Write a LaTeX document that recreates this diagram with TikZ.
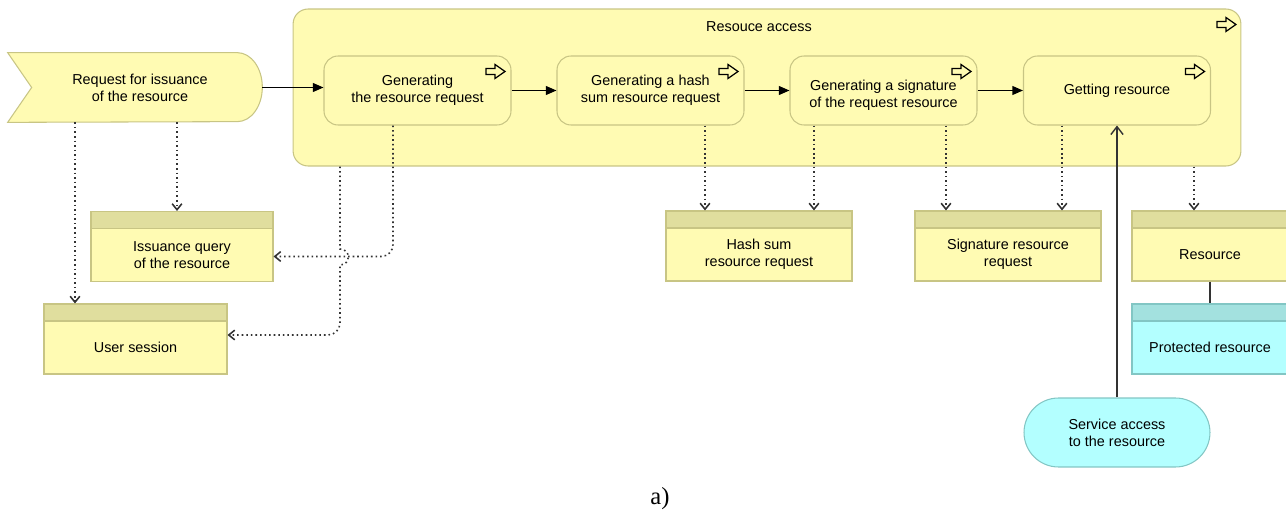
\documentclass[tikz,border=0pt]{standalone}
\usepackage{fontspec}
\setmainfont{Liberation Sans}
\newfontfamily\capfont{Liberation Serif}
\usepackage{tikz}
\usetikzlibrary{positioning,calc,arrows.meta}

\definecolor{objfill}{HTML}{FFFBB3}
\definecolor{objline}{HTML}{C8C584}
\definecolor{objhead}{HTML}{E0DE9E}
\definecolor{resfill}{HTML}{B3FFFF}
\definecolor{resline}{HTML}{82C6C4}
\definecolor{reshead}{HTML}{A3E1DF}
\definecolor{linkcol}{HTML}{333333}

\tikzset{
  frame/.style={draw=objline, fill=objfill, line width=0.6pt, rounded corners=0.3cm,
    minimum width=18.96cm, minimum height=3.14cm, inner sep=0pt},
  func/.style={draw=objline, fill=objfill, line width=0.6pt, rounded corners=0.28cm,
    minimum width=3.74cm, minimum height=1.38cm, align=center, inner sep=0pt},
  evbox/.style={minimum width=5.08cm, minimum height=1.38cm, inner sep=0pt},
  event/.style={draw=objline, fill=objfill, line width=0.6pt},
  data/.style={draw=#1line, fill=#1fill, line width=0.6pt,
    minimum width=3.68cm, minimum height=1.4cm, inner sep=0pt,
    path picture={
      \fill[#1head] (path picture bounding box.north west) rectangle ([yshift=-0.34cm]path picture bounding box.north east);
      \draw[#1line, line width=0.6pt] ([yshift=-0.34cm]path picture bounding box.north west) -- ([yshift=-0.34cm]path picture bounding box.north east);}},
  data/.default=obj,
  txt/.style={align=center, inner sep=0pt},
  svc/.style={draw=resline, fill=resfill, line width=0.6pt, rounded corners=0.69cm,
    minimum width=3.72cm, minimum height=1.38cm, align=center},
  flowicon/.pic={
    \draw[black, line width=0.7pt, line join=miter]
      (-9.5,-3) -- (-0.5,-3) -- (-0.5,-7) -- (9.5,0) -- (-0.5,7) -- (-0.5,3) -- (-9.5,3) -- cycle;},
  flow/.style={draw=black, line width=0.8pt, -{Triangle[length=6pt,width=5pt]}},
  link/.style={draw=linkcol, line width=0.8pt},
  access/.style={link, -{Straight Barb[length=4.5pt,width=7pt]}},
  dataflow/.style={draw=linkcol, line width=0.9pt, dash pattern=on 0.9pt off 1.7pt,
    -{Straight Barb[length=3.4pt,width=5.5pt]}}
}

\begin{document}
\begin{tikzpicture}[x=0.02cm, y=-0.02cm, font=\fontsize{8.2}{9.7}\selectfont]
    \useasboundingbox (0,0) rectangle (1286,513);

    % Process frame
    \node[frame] (cont) at (767,87.5) {};
    \node[txt] (cont-t) at ([xshift=-0.16cm,yshift=-0.37cm]cont.north) {Resouce access};
    \pic at ([xshift=-0.3cm,yshift=-0.32cm]cont.north east) {flowicon};

    % Start event
    \node[evbox] (ev) at (135,87.5) {};
    \filldraw[event] (ev.north west) -- ([xshift=-0.5cm]ev.north east)
        arc[start angle=90, end angle=-90, x radius=0.5cm, y radius=0.69cm]
        -- (ev.south west) -- ([xshift=0.48cm]ev.west) -- cycle;
    \node[txt] (ev-t) at ([xshift=0.1cm]ev.center) {Request for issuance\\of the resource};

    % Functions
    \node[func] (f1) at (417.5,90.5) {Generating\\the resource request};
    \node[func] (f2) at (650.5,90.5) {Generating a hash\\sum resource request};
    \node[func] (f3) at (883.5,90.5) {};
    \node[txt] (f3-t) at ([yshift=-0.1cm]f3.center) {Generating a signature\\of the request resource};
    \node[func] (f4) at (1117,90.5) {Getting resource};
    \pic at ([xshift=-0.32cm,yshift=-0.32cm]f1.north east) {flowicon};
    \pic at ([xshift=-0.32cm,yshift=-0.32cm]f2.north east) {flowicon};
    \pic at ([xshift=-0.32cm,yshift=-0.32cm]f3.north east) {flowicon};
    \pic at ([xshift=-0.32cm,yshift=-0.32cm]f4.north east) {flowicon};

    % Control flow
    \draw[flow] (ev.east) -- (ev.east -| f1.west);
    \draw[flow] (f1.east) -- (f2.west);
    \draw[flow] (f2.east) -- (f3.west);
    \draw[flow] (f3.east) -- (f4.west);

    % Data objects
    \node[data, minimum width=3.64cm] (iq) at (182,246.5) {};
    \node[txt] (iq-t) at ([yshift=-0.17cm]iq.center) {Issuance query\\of the resource};
    \node[data, minimum width=3.66cm] (usr) at (135.5,339) {};
    \node[txt] (usr-t) at ([yshift=-0.17cm]usr.center) {User session};
    \node[data, minimum width=3.72cm] (hash) at (759,246) {};
    \node[txt] (hash-t) at ([yshift=-0.17cm]hash.center) {Hash sum\\resource request};
    \node[data, minimum width=3.72cm] (sig) at (1008,246) {};
    \node[txt] (sig-t) at ([yshift=-0.17cm]sig.center) {Signature resource\\request};
    \node[data, minimum width=3.12cm] (res) at (1210,246) {};
    \node[txt] (res-t) at ([yshift=-0.17cm]res.center) {Resource};
    \node[data=res, minimum width=3.12cm] (prot) at (1210,339) {};
    \node[txt] (prot-t) at ([yshift=-0.17cm]prot.center) {Protected resource};

    % Service
    \node[svc] (svc) at (1117,432.5) {Service access\\to the resource};

    % Data links
    \draw[dataflow] (ev.south -| 75,0) -- (usr.north -| 75,0);
    \draw[dataflow] (ev.south -| 177,0) -- (iq.north -| 177,0);
    \draw[dataflow] (f1.south -| 393,0) [rounded corners=0.24cm] |- ([yshift=-0.2cm]iq.east);
    \draw[dataflow] (cont.south -| 340,0) -- (340,249)
        .. controls (351,249) and (351,265) .. (340,265)
        [rounded corners=0.24cm] |- ([yshift=0.08cm]usr.east);
    \draw[dataflow] (f2.south -| 705,0) -- (hash.north -| 705,0);
    \draw[dataflow] (f3.south -| 814,0) -- (hash.north -| 814,0);
    \draw[dataflow] (f3.south -| 946,0) -- (sig.north -| 946,0);
    \draw[dataflow] (f4.south -| 1062,0) -- (sig.north -| 1062,0);
    \draw[dataflow] (cont.south -| 1194,0) -- (res.north -| 1194,0);

    % Resource links
    \draw[link] (res.south) -- (prot.north);
    \draw[access] (svc.north) -- (f4.south);

    \node[font=\capfont\fontsize{14}{16}\selectfont] (cap) at (660,499) {a)};
\end{tikzpicture}
\end{document}
